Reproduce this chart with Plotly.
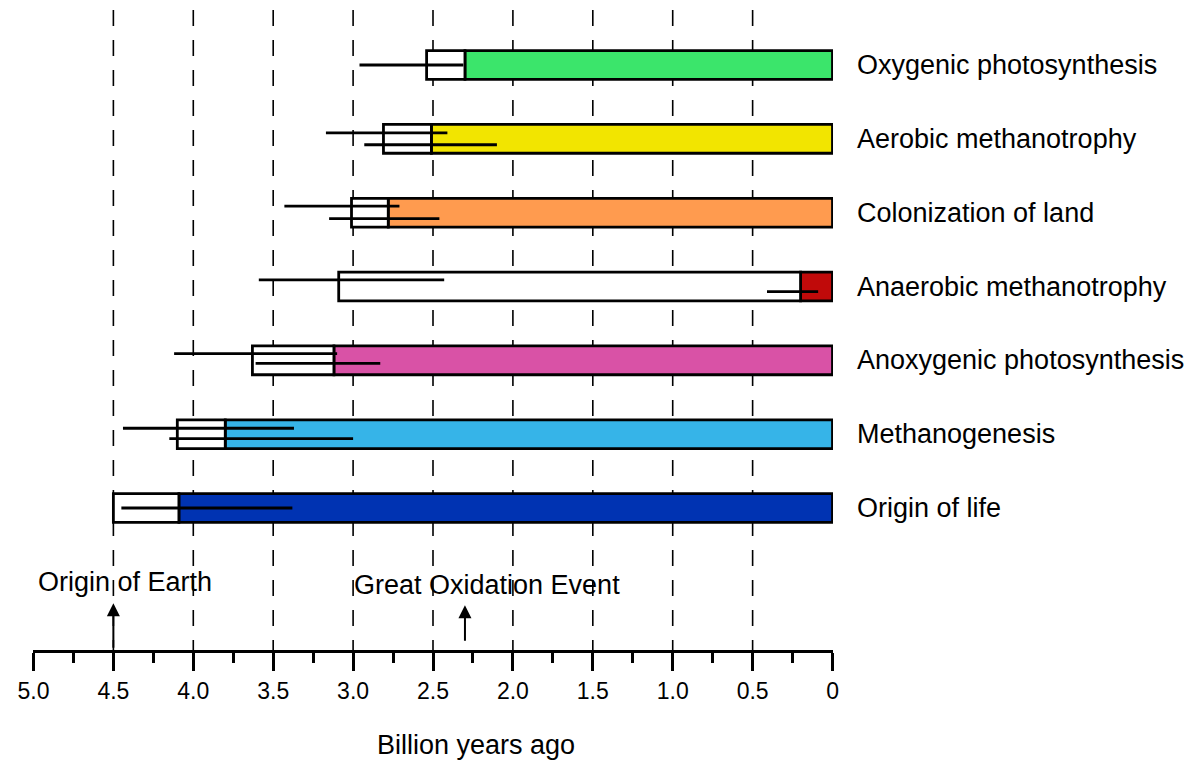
import plotly.graph_objects as go

# ---- data (billion years ago) ----
processes = ["Origin of life", "Methanogenesis", "Anoxygenic photosynthesis",
             "Anaerobic methanotrophy", "Colonization of land",
             "Aerobic methanotrophy", "Oxygenic photosynthesis"]
box_old = [4.50, 4.10, 3.63, 3.09, 3.01, 2.81, 2.54]     # start of uncertainty box
box_young = [4.09, 3.80, 3.12, 0.20, 2.78, 2.51, 2.30]   # end of box / start of colour bar
colors = ["#0033b2", "#36b4e8", "#d952a6", "#c00a0a", "#ff9b4f", "#f2e500", "#3be56b"]

# individual estimates (error lines)
est_row = [0, 1, 1, 2, 2, 3, 3, 4, 4, 5, 5, 6]
est_old = [4.45, 4.44, 4.15, 4.12, 3.61, 3.59, 0.41, 3.43, 3.15, 3.17, 2.93, 2.96]
est_young = [3.38, 3.37, 3.00, 3.10, 2.83, 2.43, 0.09, 2.71, 2.46, 2.41, 2.10, 2.31]
est_offset = [0.0, 0.08, -0.06, 0.09, -0.04, 0.09, -0.07, 0.09, -0.08, 0.08, -0.08, 0.0]

tick_vals = [5.0, 4.5, 4.0, 3.5, 3.0, 2.5, 2.0, 1.5, 1.0, 0.5, 0.0]
tick_text = ["5.0", "4.5", "4.0", "3.5", "3.0", "2.5", "2.0", "1.5", "1.0", "0.5", "0"]
minor_vals = [4.75, 4.25, 3.75, 3.25, 2.75, 2.25, 1.75, 1.25, 0.75, 0.25]
grid_vals = [4.5, 4.0, 3.5, 3.0, 2.5, 2.0, 1.5, 1.0, 0.5]

events = ["Origin of Earth", "Great Oxidation Event"]
event_age = [4.5, 2.3]

rows = list(range(len(processes)))
FONT = "Liberation Sans, Arial, sans-serif"

fig = go.Figure()

# coloured bars (from end of box to present)
fig.add_trace(go.Bar(
    y=rows, x=box_young, base=[0] * len(rows), orientation="h", width=0.39,
    marker=dict(color=colors, line=dict(color="black", width=2.8)),
    showlegend=False, hoverinfo="skip"))

# white uncertainty boxes
fig.add_trace(go.Bar(
    y=rows, x=[o - y for o, y in zip(box_old, box_young)], base=box_young,
    orientation="h", width=0.39,
    marker=dict(color="white", line=dict(color="black", width=2.8)),
    showlegend=False, hoverinfo="skip"))

# estimate lines
lx, ly = [], []
for r, a, b, off in zip(est_row, est_old, est_young, est_offset):
    lx += [a, b, None]
    ly += [r + off, r + off, None]
fig.add_trace(go.Scatter(x=lx, y=ly, mode="lines",
                         line=dict(color="black", width=2.8),
                         showlegend=False, hoverinfo="skip"))

# dashed reference lines
shapes = []
for v in grid_vals:
    shapes.append(dict(type="line", xref="x", yref="paper", x0=v, x1=v, y0=1, y1=0,
                       line=dict(color="black", width=1.6, dash="16px,14px"),
                       layer="below"))

annotations = []
# process labels
for r, name in zip(rows, processes):
    annotations.append(dict(x=1.027, xref="paper", y=r, yref="y", text=name,
                            showarrow=False, xanchor="left", yanchor="middle",
                            font=dict(size=27, color="black", family=FONT)))

# event labels and arrows
ev_text_x = [4.43, 2.16]
ev_text_y = [0.106, 0.101]
ev_tip = [0.073, 0.070]
ev_tail = [46, 37]
for name, age, tx, ty, tip, tail in zip(events, event_age, ev_text_x, ev_text_y, ev_tip, ev_tail):
    annotations.append(dict(x=tx, xref="x", y=ty, yref="paper", text=name,
                            showarrow=False, xanchor="center", yanchor="middle",
                            font=dict(size=27, color="black", family=FONT)))
    annotations.append(dict(x=age, xref="x", y=tip, yref="paper", text="",
                            showarrow=True, ax=0, ay=tail, arrowhead=2,
                            arrowsize=1.3, arrowwidth=2, arrowcolor="black",
                            standoff=0, startstandoff=0))

# axis title
annotations.append(dict(x=2.23, xref="x", y=-0.148, yref="paper",
                        text="Billion years ago", showarrow=False,
                        xanchor="center", yanchor="middle",
                        font=dict(size=27, color="black", family=FONT)))

fig.update_layout(
    width=1192, height=765,
    margin=dict(l=25, r=367, t=2, b=123),
    paper_bgcolor="white", plot_bgcolor="white",
    barmode="overlay",
    shapes=shapes, annotations=annotations,
    font=dict(family=FONT, color="black"),
    xaxis=dict(range=[5.003, -0.003], showgrid=False, zeroline=False,
               showline=True, linecolor="black", linewidth=3,
               ticks="outside", ticklen=18, tickwidth=3, tickcolor="black",
               tickvals=tick_vals, ticktext=tick_text,
               tickfont=dict(size=23, color="black", family=FONT),
               minor=dict(tickvals=minor_vals, ticks="outside", ticklen=10,
                          tickwidth=3, tickcolor="black", showgrid=False)),
    yaxis=dict(range=[-1.923, 6.745], visible=False, showgrid=False, zeroline=False),
)

fig.write_html("out.html")
